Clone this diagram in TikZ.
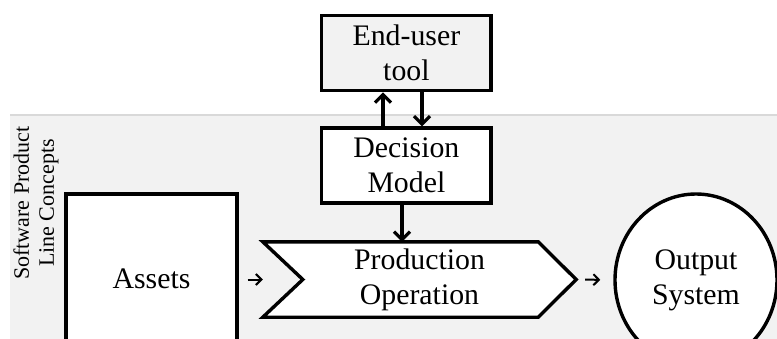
\documentclass[tikz,border=0pt]{standalone}
\usepackage{fontspec}
\setmainfont{Liberation Serif}
\usetikzlibrary{arrows.meta,calc,shapes.geometric}
\definecolor{bandgray}{HTML}{F2F2F2}
\definecolor{bandline}{HTML}{D9D9D9}
\tikzset{
  mainfont/.style={font=\fontsize{29.8}{35}\selectfont},
  box/.style={draw=black, line width=3.4pt, rectangle, inner sep=0pt,
    align=center, mainfont},
  bigarrow/.style={line width=3.2pt, -{Straight Barb[length=8pt,width=16pt,line width=3.2pt]}},
  smallarrow/.style={line width=2pt, -{Straight Barb[length=5.5pt,width=11pt,line width=2pt]}},
  sidelabel/.style={rotate=90, align=center, inner sep=0pt,
    font=\fontsize{22}{25}\selectfont}
}
\begin{document}
\begin{tikzpicture}[x=1pt,y=-1pt]
  \useasboundingbox (0,0) rectangle (777,338);
  \clip (0,0) rectangle (777,338);

  % background band for the product line concepts
  \fill[bandgray] (10,116) rectangle (777,340);
  \draw[bandline, line width=2.5pt] (10,115) -- (777,115);

  \node[sidelabel] (spl) at (36,203) {Software Product\\Line Concepts};

  % boxes
  \node[box, fill=bandgray, minimum width=169.3pt, minimum height=75pt]
    (tool) at (406.4,53.2) {End-user\\tool};
  \node[box, fill=white, minimum width=169.3pt, minimum height=75pt]
    (dm) at (406.4,165.5) {Decision\\Model};
  \node[box, fill=white, minimum width=171pt, minimum height=170pt]
    (assets) at (151.5,279) {Assets};

  % production step drawn as a chevron around its node
  \node[inner sep=0pt, minimum width=313pt, minimum height=75pt]
    (prod) at (419.5,279.5) {};
  \draw[line width=3.4pt, fill=white, line join=miter]
    (prod.north west) -- ([xshift=-38pt]prod.north east) -- (prod.east)
    -- ([xshift=-38pt]prod.south east) -- (prod.south west)
    -- ([xshift=40pt]prod.west) -- cycle;
  \node[align=center, inner sep=0pt, mainfont] (prodtext)
    at (prod.center) {Production\\Operation};

  % output
  \node[ellipse, draw=black, line width=3.4pt, fill=white, inner sep=0pt,
        minimum width=162pt, minimum height=172pt, align=center, mainfont]
    (out) at (696,280) {Output\\System};

  % connectors
  \draw[bigarrow] ([xshift=-23.4pt]dm.north) -- ([xshift=-23.4pt]tool.south);
  \draw[bigarrow] ([xshift=15.6pt]tool.south) -- ([xshift=15.6pt]dm.north);
  \draw[bigarrow] ([xshift=-4.4pt]dm.south) -- ([xshift=-4.4pt]dm.south |- prod.north);
  \draw[smallarrow, shorten <=9pt] (assets.east |- prod.west) -- (prod.west);
  \draw[smallarrow, shorten <=9pt, shorten >=13pt] (prod.east) -- (out.west);
\end{tikzpicture}
\end{document}
